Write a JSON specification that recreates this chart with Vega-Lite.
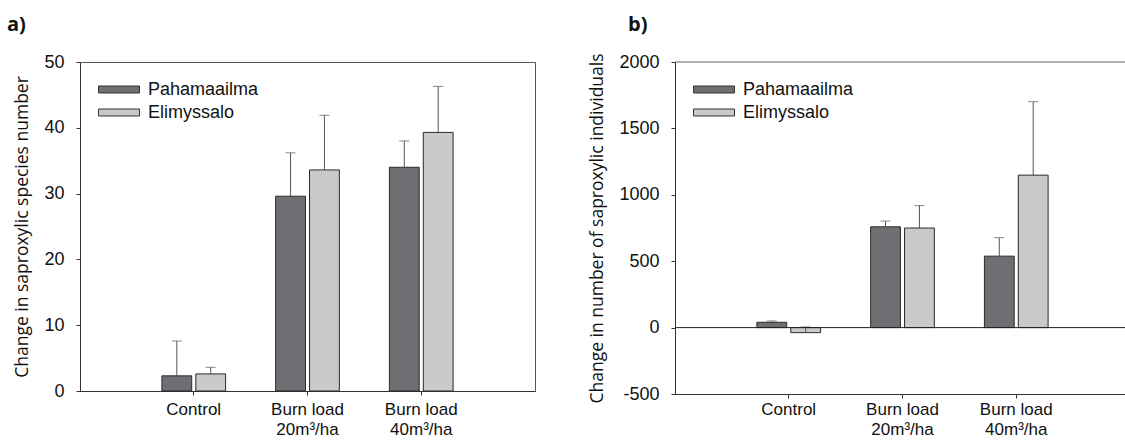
{
  "$schema": "https://vega.github.io/schema/vega-lite/v6.json",
  "background": "white",
  "padding": {"left": 6, "top": 14, "right": 0, "bottom": 0},
  "datasets": {
    "a": [
      {"cat": "Control", "site": "Pahamaailma", "v": 2.3, "hi": 7.6},
      {"cat": "Control", "site": "Elimyssalo", "v": 2.6, "hi": 3.6},
      {"cat": "Burn load|20m³/ha", "site": "Pahamaailma", "v": 29.6, "hi": 36.2},
      {"cat": "Burn load|20m³/ha", "site": "Elimyssalo", "v": 33.6, "hi": 41.9},
      {"cat": "Burn load|40m³/ha", "site": "Pahamaailma", "v": 34.0, "hi": 38.0},
      {"cat": "Burn load|40m³/ha", "site": "Elimyssalo", "v": 39.3, "hi": 46.3}
    ],
    "b": [
      {"cat": "Control", "site": "Pahamaailma", "v": 40, "hi": 50},
      {"cat": "Control", "site": "Elimyssalo", "v": -38, "hi": 5},
      {"cat": "Burn load|20m³/ha", "site": "Pahamaailma", "v": 759, "hi": 802},
      {"cat": "Burn load|20m³/ha", "site": "Elimyssalo", "v": 750, "hi": 919},
      {"cat": "Burn load|40m³/ha", "site": "Pahamaailma", "v": 538, "hi": 677},
      {"cat": "Burn load|40m³/ha", "site": "Elimyssalo", "v": 1148, "hi": 1701}
    ]
  },
  "hconcat": [
    {
      "width": 455,
      "height": 329,
      "title": {"text": "a)", "anchor": "start", "frame": "group", "dx": -73, "offset": 18},
      "data": {"name": "a"},
      "encoding": {
        "x": {"field": "cat", "type": "nominal", "sort": null,
              "scale": {"paddingInner": 0.44, "paddingOuter": 0.72},
              "axis": {"title": null, "labelAngle": 0, "labelExpr": "split(datum.label, '|')", "labelPadding": 6, "labelLineHeight": 20}},
        "xOffset": {"field": "site", "type": "nominal", "sort": ["Pahamaailma", "Elimyssalo"], "scale": {"paddingInner": 0.12}}
      },
      "layer": [
        {
          "mark": {"type": "bar", "stroke": "#2a2a2a", "strokeWidth": 1},
          "encoding": {
            "y": {"field": "v", "type": "quantitative",
                  "scale": {"domain": [0, 50], "nice": false},
                  "axis": {"title": "Change in saproxylic species number", "values": [0, 10, 20, 30, 40, 50], "labelExpr": "toString(datum.value)"}},
            "color": {"field": "site", "type": "nominal", "sort": ["Pahamaailma", "Elimyssalo"],
                      "scale": {"domain": ["Pahamaailma", "Elimyssalo"], "range": ["#6e6f73", "#c8c9cb"]},
                      "legend": {"title": null, "orient": "none", "legendX": 18, "legendY": 19}}
          }
        },
        {
          "mark": {"type": "rule", "color": "#555", "strokeWidth": 1},
          "encoding": {"y": {"field": "v", "type": "quantitative"}, "y2": {"field": "hi"}}
        },
        {
          "mark": {"type": "tick", "color": "#555", "thickness": 1, "size": 10, "orient": "horizontal"},
          "encoding": {"y": {"field": "hi", "type": "quantitative"}}
        }
      ]
    },
    {
      "width": 455,
      "height": 332,
      "view": {"stroke": null},
      "title": {"text": "b)", "anchor": "start", "frame": "group", "dx": -47, "offset": 18},
      "data": {"name": "b"},
      "encoding": {
        "x": {"field": "cat", "type": "nominal", "sort": null,
              "scale": {"paddingInner": 0.44, "paddingOuter": 0.72},
              "axis": {"title": null, "labelAngle": 0, "labelExpr": "split(datum.label, '|')", "labelPadding": 3, "labelLineHeight": 20}},
        "xOffset": {"field": "site", "type": "nominal", "sort": ["Pahamaailma", "Elimyssalo"], "scale": {"paddingInner": 0.12}}
      },
      "layer": [
        {
          "mark": {"type": "bar", "stroke": "#2a2a2a", "strokeWidth": 1},
          "encoding": {
            "y": {"field": "v", "type": "quantitative",
                  "scale": {"domain": [-500, 2000], "nice": false, "zero": false},
                  "axis": {"title": "Change in number of saproxylic individuals", "values": [-500, 0, 500, 1000, 1500, 2000], "labelExpr": "toString(datum.value)"}},
            "color": {"field": "site", "type": "nominal", "sort": ["Pahamaailma", "Elimyssalo"],
                      "scale": {"domain": ["Pahamaailma", "Elimyssalo"], "range": ["#6e6f73", "#c8c9cb"]},
                      "legend": {"title": null, "orient": "none", "legendX": 18, "legendY": 19}}
          }
        },
        {
          "mark": {"type": "rule", "color": "#555", "strokeWidth": 1},
          "encoding": {"y": {"field": "v", "type": "quantitative"}, "y2": {"field": "hi"}}
        },
        {
          "mark": {"type": "tick", "color": "#555", "thickness": 1, "size": 10, "orient": "horizontal"},
          "encoding": {"y": {"field": "hi", "type": "quantitative"}}
        },
        {
          "data": {"values": [{"z": 0}, {"z": 2000}]},
          "mark": {"type": "rule", "strokeWidth": 1},
          "encoding": {"y": {"field": "z", "type": "quantitative"}, "x": {"value": 0}, "x2": {"value": 455}, "xOffset": null,
                       "color": {"condition": {"test": "datum.z == 0", "value": "#222"}, "value": "#666"}}
        }
      ]
    }
  ],
  "spacing": 52,
  "resolve": {"scale": {"y": "independent", "x": "independent", "color": "shared"}, "legend": {"color": "independent"}},
  "config": {
    "view": {"stroke": "#555", "strokeWidth": 1},
    "title": {"font": "Open Sans", "fontSize": 20, "fontWeight": "bold", "color": "#111"},
    "axis": {
      "labelFont": "Liberation Sans", "labelFontSize": 18, "labelColor": "#111",
      "titleFont": "Open Sans", "titleFontSize": 17.5, "titleFontWeight": "normal", "titleColor": "#111",
      "domainColor": "#333", "tickColor": "#333", "tickSize": 4, "grid": false, "labelPadding": 12, "titlePadding": 12
    },
    "axisX": {"domain": true, "labelFontSize": 17},
    "legend": {
      "labelFont": "Liberation Sans", "labelFontSize": 18, "labelColor": "#111", "labelOffset": 8,
      "symbolType": "M-1,-0.17H1V0.17H-1Z", "symbolSize": 1681, "symbolStrokeColor": "#333", "symbolStrokeWidth": 1,
      "clipHeight": 17, "rowPadding": 4, "padding": 0
    }
  }
}
